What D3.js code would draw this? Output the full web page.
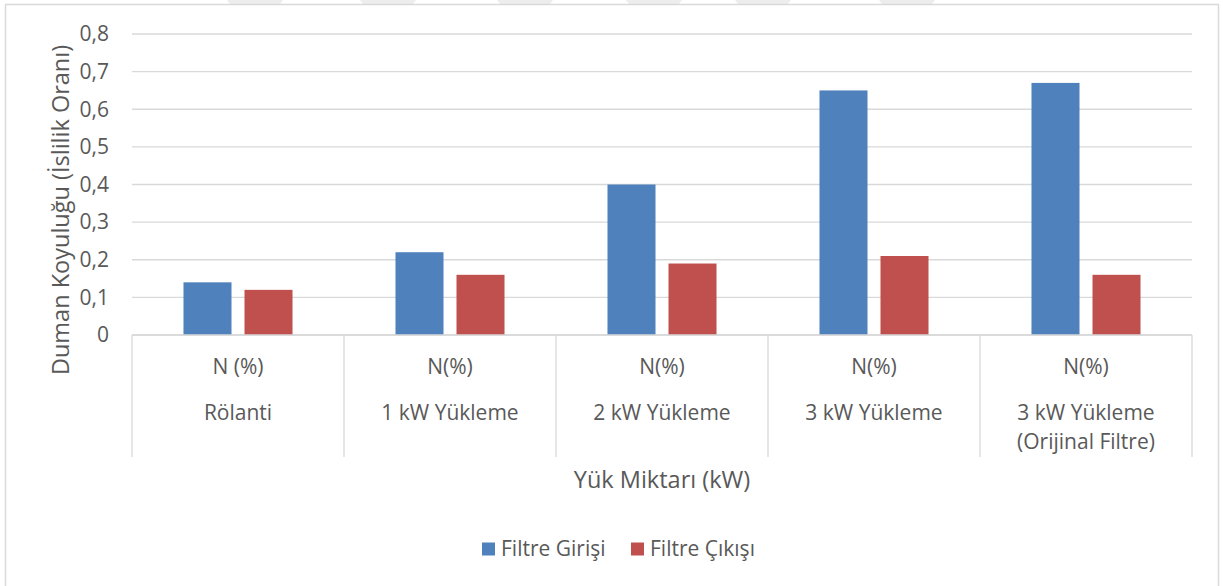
<!DOCTYPE html>
<html lang="tr">
<head>
<meta charset="UTF-8">
<script src="https://d3js.org/d3.v7.min.js"></script>
<style>
  body { margin: 0; background: #fff; }
  svg { display: block; font-family: "Open Sans", "Liberation Sans", sans-serif; }
  text { fill: #595959; }
</style>
</head>
<body>
<svg width="1224" height="586"></svg>
<script>
const groups = ["N (%)", "N(%)", "N(%)", "N(%)", "N(%)"];
const categories = [["Rölanti"], ["1 kW Yükleme"], ["2 kW Yükleme"], ["3 kW Yükleme"], ["3 kW Yükleme", "(Orijinal Filtre)"]];
const series = ["Filtre Girişi", "Filtre Çıkışı"];
const girisi = [0.14, 0.22, 0.40, 0.65, 0.67];
const cikisi = [0.12, 0.16, 0.19, 0.21, 0.16];
const yTicks = [0, 0.1, 0.2, 0.3, 0.4, 0.5, 0.6, 0.7, 0.8];
const colors = ["#4f81bd", "#c0504d"];

const svg = d3.select("svg");

// faint watermark bits peeking above the frame
[227, 360, 497, 626, 735, 879].forEach(wx => {
  svg.append("polygon")
    .attr("points", `${wx},0 ${wx + 56},0 ${wx + 50},8 ${wx + 6},8`)
    .attr("fill", "#ededed");
});

// outer frame
svg.append("rect")
  .attr("x", 5.5).attr("y", 4.5).attr("width", 1213).attr("height", 600)
  .attr("fill", "#fff").attr("stroke", "#d9d9d9").attr("stroke-width", 1.5);

const plotL = 132, plotR = 1192, plotT = 34, plotB = 335;

const x = d3.scaleBand().domain(d3.range(5)).range([plotL, plotR]);
const xInner = d3.scaleBand().domain(series).range([0, x.bandwidth()])
  .paddingInner(0.213).paddingOuter(0.844);
const y = d3.scaleLinear().domain([0, 0.8]).range([plotB, plotT]);

// gridlines
svg.append("g")
  .selectAll("line")
  .data(yTicks)
  .join("line")
  .attr("x1", plotL).attr("x2", plotR)
  .attr("y1", d => y(d)).attr("y2", d => y(d))
  .attr("stroke", "#d9d9d9").attr("stroke-width", 1.3);

// y axis labels
svg.append("g")
  .selectAll("text")
  .data(yTicks)
  .join("text")
  .attr("x", 109).attr("y", d => y(d))
  .attr("dy", "0.35em")
  .attr("text-anchor", "end")
  .attr("font-size", 21)
  .text(d => d === 0 ? "0" : d3.format(".1f")(d).replace(".", ","));

// bars
const rows = d3.range(5).map(i => [girisi[i], cikisi[i]]);
svg.append("g")
  .selectAll("g")
  .data(rows)
  .join("g")
  .attr("transform", (d, i) => `translate(${x(i)},0)`)
  .selectAll("rect")
  .data(d => d.map((v, j) => ({ v, s: series[j], j })))
  .join("rect")
  .attr("x", d => xInner(d.s))
  .attr("width", xInner.bandwidth())
  .attr("y", d => y(d.v))
  .attr("height", d => y(0) - y(d.v))
  .attr("fill", d => colors[d.j]);

// category separators
svg.append("g")
  .selectAll("line")
  .data(d3.range(6))
  .join("line")
  .attr("x1", i => plotL + i * x.step()).attr("x2", i => plotL + i * x.step())
  .attr("y1", plotB).attr("y2", 457)
  .attr("stroke", "#d9d9d9").attr("stroke-width", 1.3);

svg.append("line")
  .attr("x1", plotL).attr("x2", plotR).attr("y1", plotB).attr("y2", plotB)
  .attr("stroke", "#d9d9d9").attr("stroke-width", 1.3);

// group labels
svg.append("g")
  .selectAll("text")
  .data(groups)
  .join("text")
  .attr("x", (d, i) => x(i) + x.bandwidth() / 2)
  .attr("y", 374)
  .attr("text-anchor", "middle")
  .attr("font-size", 21)
  .text(d => d);

svg.append("g")
  .selectAll("text")
  .data(categories)
  .join("text")
  .attr("x", (d, i) => x(i) + x.bandwidth() / 2)
  .attr("y", 420)
  .attr("text-anchor", "middle")
  .attr("font-size", 21)
  .selectAll("tspan")
  .data(d => d)
  .join("tspan")
  .attr("x", function () { return d3.select(this.parentNode).attr("x"); })
  .attr("dy", (d, k) => k === 0 ? 0 : 29)
  .text(d => d);

// axis titles
svg.append("text")
  .attr("x", (plotL + plotR) / 2).attr("y", 488)
  .attr("text-anchor", "middle")
  .attr("font-size", 23.5)
  .text("Yük Miktarı (kW)");

svg.append("text")
  .attr("transform", "translate(69,210) rotate(-90)")
  .attr("text-anchor", "middle")
  .attr("font-size", 23.5)
  .text("Duman Koyuluğu (İslilik Oranı)");

// legend
const legend = svg.append("g").attr("transform", "translate(482,549)");
const lx = [0, 149];
series.forEach((s, i) => {
  legend.append("rect")
    .attr("x", lx[i]).attr("y", -6.5).attr("width", 13).attr("height", 13)
    .attr("fill", colors[i]);
  legend.append("text")
    .attr("x", lx[i] + 19).attr("y", 0)
    .attr("dy", "0.35em")
    .attr("font-size", 21)
    .text(s);
});
</script>
</body>
</html>
